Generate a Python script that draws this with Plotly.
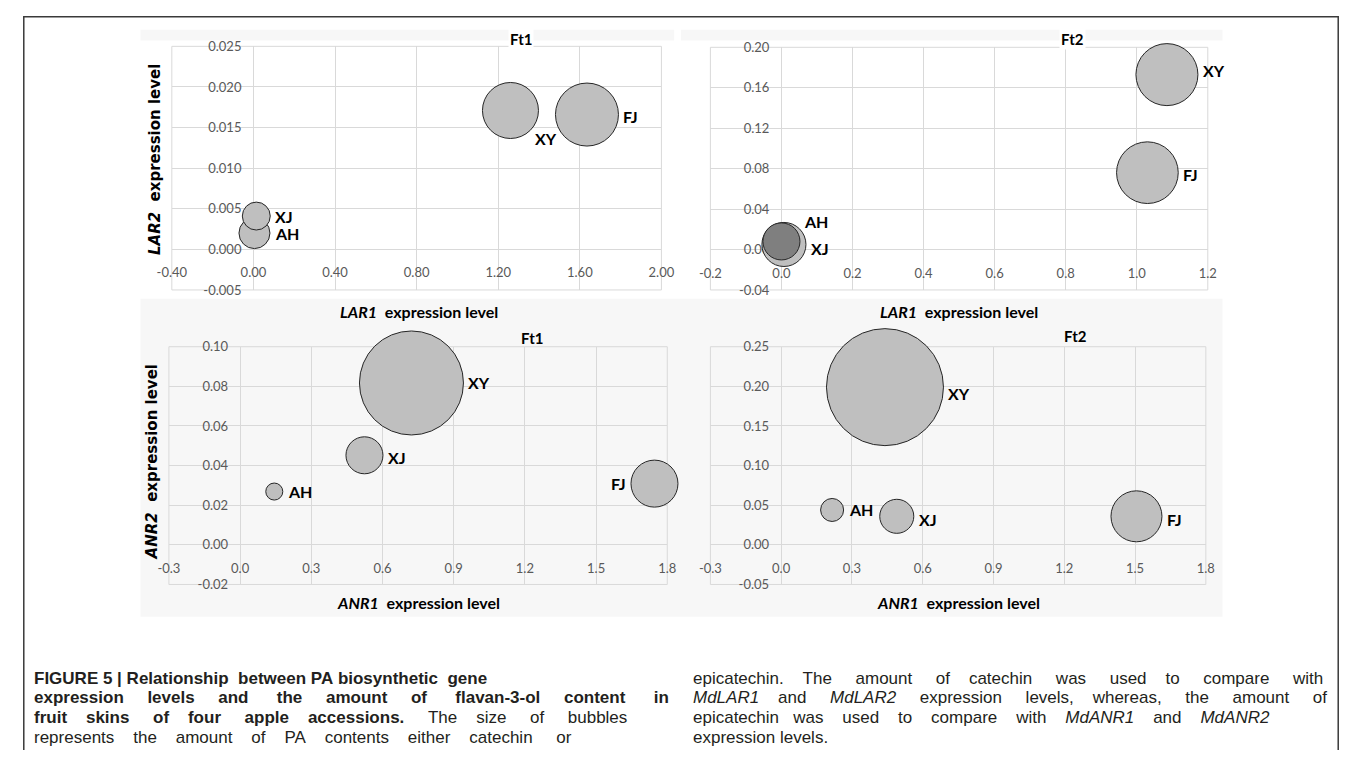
import math
import plotly.graph_objects as go

# page pixel size of the reference, and the browser's default 8px body margin
PAGE_W, PAGE_H = 1360, 758
OX, OY = 8, 8
W, H = PAGE_W - 2 * OX, PAGE_H - 2 * OY

# ---------------- data ----------------
accessions = ["AH", "XJ", "XY", "FJ"]

# Ft1: LAR1 vs LAR2, bubble = catechin
lar1_ft1 = [0.005, 0.014, 1.260, 1.635]
lar2_ft1 = [0.0020, 0.0041, 0.0171, 0.0166]
catechin_ft1 = [9.6, 7.8, 31.4, 39.7]

# Ft2: LAR1 vs LAR2, bubble = catechin
lar1_ft2 = [0.000, 0.007, 1.085, 1.030]
lar2_ft2 = [0.008, 0.005, 0.173, 0.076]
catechin_ft2 = [13.7, 19.4, 38.4, 38.0]

# Ft1: ANR1 vs ANR2, bubble = epicatechin
anr1_ft1 = [0.144, 0.524, 0.722, 1.746]
anr2_ft1 = [0.0269, 0.0452, 0.0817, 0.0309]
epicatechin_ft1 = [2.9, 13.7, 108.2, 22.1]

# Ft2: ANR1 vs ANR2, bubble = epicatechin
anr1_ft2 = [0.216, 0.490, 0.440, 1.506]
anr2_ft2 = [0.044, 0.036, 0.199, 0.036]
epicatechin_ft2 = [5.3, 11.6, 136.9, 26.0]

# tick values
xt_tl = [-0.40, 0.00, 0.40, 0.80, 1.20, 1.60, 2.00]
yt_tl = [-0.005, 0.000, 0.005, 0.010, 0.015, 0.020, 0.025]
xt_tr = [-0.2, 0.0, 0.2, 0.4, 0.6, 0.8, 1.0, 1.2]
yt_tr = [-0.04, 0.00, 0.04, 0.08, 0.12, 0.16, 0.20]
xt_b = [-0.3, 0.0, 0.3, 0.6, 0.9, 1.2, 1.5, 1.8]
yt_bl = [-0.02, 0.00, 0.02, 0.04, 0.06, 0.08, 0.10]
yt_br = [-0.05, 0.00, 0.05, 0.10, 0.15, 0.20, 0.25]

panel_titles = ["Ft1", "Ft2", "Ft1", "Ft2"]

# caption: lines of (text, style) segments; style: "b" bold, "i" italic, "" plain
caption_left = [
    [("FIGURE 5 | Relationship between PA biosynthetic gene", "b")],
    [("expression levels and the amount of flavan-3-ol content in", "b")],
    [("fruit skins of four apple accessions.", "b"), (" The size of bubbles", "")],
    [("represents the amount of PA contents either catechin or", "")],
]
caption_right = [
    [("epicatechin. The amount of catechin was used to compare with", "")],
    [("MdLAR1", "i"), (" and ", ""), ("MdLAR2", "i"),
     (" expression levels, whereas, the amount of", "")],
    [("epicatechin was used to compare with ", ""), ("MdANR1", "i"), (" and ", ""),
     ("MdANR2", "i")],
    [("expression levels.", "")],
]

# ---------------- style / layout ----------------
def px_x(p):
    return (p - OX) / W


def px_y(p):
    return 1 - (p - OY) / H


panels = [
    dict(x=lar1_ft1, y=lar2_ft1, s=catechin_ft1, xt=xt_tl, yt=yt_tl, xf="{:.2f}", yf="{:.3f}",
         box=(160, 660, 39, 288), maxd=63, dark=None,
         lab={"AH": ("r", 0), "XJ": ("r", 0), "XY": ("br", 0), "FJ": ("r", 2)}),
    dict(x=lar1_ft2, y=lar2_ft2, s=catechin_ft2, xt=xt_tr, yt=yt_tr, xf="{:.1f}", yf="{:.2f}",
         box=(710, 1218, 40, 288), maxd=62, dark="AH",
         lab={"AH": ("tr", 0), "XJ": ("r", 4), "XY": ("r", -4), "FJ": ("r", 2)}),
    dict(x=anr1_ft1, y=anr2_ft1, s=epicatechin_ft1, xt=xt_b, yt=yt_bl, xf="{:.1f}", yf="{:.2f}",
         box=(157, 666, 346, 589), maxd=104, dark=None,
         lab={"AH": ("r", 0), "XJ": ("r", 2), "XY": ("r", 0), "FJ": ("l", 0)}),
    dict(x=anr1_ft2, y=anr2_ft2, s=epicatechin_ft2, xt=xt_b, yt=yt_br, xf="{:.1f}", yf="{:.2f}",
         box=(710, 1216, 346, 589), maxd=117, dark=None,
         lab={"AH": ("r", 0), "XJ": ("r", 3), "XY": ("r", 6), "FJ": ("r", 3)}),
]

GRID = "#d9d9d9"
TICKC = "#595959"
LABEL_FONT = dict(family="Lato", size=16, color="#000000")

fig = go.Figure()
layout = dict(
    width=W, height=H, margin=dict(l=0, r=0, t=0, b=0),
    paper_bgcolor="white", plot_bgcolor="white", showlegend=False,
)
shapes = []
annotations = []

# light grey chart-area bands (drawn beneath plot areas)
for (x0, x1, y0, y1) in [(128, 673, 22, 33), (680, 1233, 22, 33), (128, 1233, 297, 622)]:
    shapes.append(dict(type="rect", xref="paper", yref="paper",
                       x0=px_x(x0), x1=px_x(x1), y0=px_y(y1), y1=px_y(y0),
                       fillcolor="#f7f7f7", line=dict(width=0), layer="below"))

for i, p in enumerate(panels):
    n = "" if i == 0 else str(i + 1)
    xa, ya = "xaxis" + n, "yaxis" + n
    xr, yr = "x" + n, "y" + n
    bx0, bx1, by0, by1 = p["box"]
    xd = [px_x(bx0), px_x(bx1)]
    yd = [px_y(by1), px_y(by0)]
    xrng = [p["xt"][0], p["xt"][-1]]
    yrng = [p["yt"][0], p["yt"][-1]]
    # axes cross at zero (Excel style)
    ypos = xd[0] + (0 - xrng[0]) / (xrng[1] - xrng[0]) * (xd[1] - xd[0])
    xpos = yd[0] + (0 - yrng[0]) / (yrng[1] - yrng[0]) * (yd[1] - yd[0])
    common = dict(showgrid=True, gridcolor=GRID, gridwidth=1, zeroline=True,
                  zerolinecolor=GRID, zerolinewidth=1, showline=False, ticks="",
                  tickfont=dict(family="Lato", size=13, color=TICKC),
                  layer="below traces", fixedrange=True)
    layout[xa] = dict(domain=xd, range=xrng, tickvals=p["xt"],
                      ticktext=[p["xf"].format(v) for v in p["xt"]],
                      anchor="free", position=xpos, ticklabelstandoff=14, **common)
    layout[ya] = dict(domain=yd, range=yrng, tickvals=p["yt"],
                      ticktext=[p["yf"].format(v) for v in p["yt"]],
                      anchor="free", position=ypos, ticklabelstandoff=12, **common)

    # plot-area border
    shapes.append(dict(type="rect", xref=xr + " domain", yref=yr + " domain",
                       x0=0, x1=1, y0=0, y1=1, line=dict(color=GRID, width=1),
                       layer="below"))

    smax = max(p["s"])
    sizeref = 2 * smax / p["maxd"] ** 2
    order = sorted(range(len(accessions)), key=lambda k: -p["s"][k])
    colors = ["#7f7f7f" if accessions[k] == p["dark"] else "#bfbfbf" for k in order]
    fig.add_trace(go.Scatter(
        x=[p["x"][k] for k in order], y=[p["y"][k] for k in order],
        mode="markers", xaxis=xr, yaxis=yr, cliponaxis=False, hoverinfo="skip",
        marker=dict(size=[p["s"][k] for k in order], sizemode="area", sizeref=sizeref,
                    color=colors, opacity=1, line=dict(color="#262626", width=1)),
    ))

    for k, name in enumerate(accessions):
        r = p["maxd"] / 2 * math.sqrt(p["s"][k] / smax)
        pos, dy = p["lab"][name]
        if pos == "r":
            xs, ys, xanc = r + 3, -dy, "left"
        elif pos == "l":
            xs, ys, xanc = -r - 3, -dy, "right"
        elif pos == "br":
            xs, ys, xanc = 0.82 * r, -r - dy, "left"
        else:  # "tr"
            xs, ys, xanc = 1.1 * r, 1.1 * r - dy, "left"
        annotations.append(dict(x=p["x"][k], y=p["y"][k], xref=xr, yref=yr,
                                text="<b>%s</b>" % name,
                                showarrow=False, xanchor=xanc, yanchor="middle",
                                xshift=xs, yshift=ys, font=LABEL_FONT))

    # panel title
    tx = [517, 1080, 528, 1083][i]
    ty = [31, 31, 337, 335][i]
    annotations.append(dict(x=px_x(tx), y=px_y(ty), xref="paper", yref="paper",
                            text="<b>%s</b>" % panel_titles[i], showarrow=False,
                            xanchor="center", yanchor="middle",
                            bgcolor="white" if i < 2 else None, borderpad=1,
                            font=dict(family="Lato", size=15, color="#000000")))

# axis titles
xtitle_font = dict(family="Lato", size=16, color="#000000")
for (cx, cy, txt) in [(412, 310, "<b><i>LAR1</i>  expression level</b>"),
                      (964, 310, "<b><i>LAR1</i>  expression level</b>"),
                      (412, 607, "<b><i>ANR1</i>  expression level</b>"),
                      (963, 607, "<b><i>ANR1</i>  expression level</b>")]:
    annotations.append(dict(x=px_x(cx), y=px_y(cy), xref="paper", yref="paper", text=txt,
                            showarrow=False, xanchor="center", yanchor="middle",
                            font=xtitle_font))
for (cx, cy, txt) in [(143, 155, "<b><i>LAR2</i>  expression level</b>"),
                      (140, 464, "<b><i>ANR2</i>  expression level</b>")]:
    annotations.append(dict(x=px_x(cx), y=px_y(cy), xref="paper", yref="paper", text=txt,
                            showarrow=False, xanchor="center", yanchor="middle",
                            textangle=-90,
                            font=dict(family="DejaVu Sans", size=15, color="#000000")))

# ---- caption, word-spaced to the reference line widths (Arial/Helvetica metrics) ----
REG = dict(zip("abcdefghijklmnopqrstuvwxyz",
               [556, 556, 500, 556, 556, 278, 556, 556, 222, 222, 500, 222, 833, 556, 556, 556,
                556, 333, 500, 278, 556, 500, 722, 500, 500, 500]))
REG.update(zip("ABCDEFGHIJKLMNOPQRSTUVWXYZ",
               [667, 667, 722, 722, 667, 611, 778, 722, 278, 500, 667, 556, 833, 722, 778, 667,
                778, 722, 667, 611, 722, 667, 944, 667, 667, 611]))
BOLD = dict(zip("abcdefghijklmnopqrstuvwxyz",
                [556, 611, 556, 611, 556, 333, 611, 611, 278, 278, 556, 278, 889, 611, 611, 611,
                 611, 389, 556, 333, 611, 556, 778, 556, 556, 500]))
BOLD.update(zip("ABCDEFGHIJKLMNOPQRSTUVWXYZ",
                [722, 722, 722, 722, 667, 611, 778, 722, 278, 556, 722, 611, 833, 722, 778, 667,
                 778, 722, 667, 611, 722, 667, 944, 667, 667, 611]))
for d in (REG, BOLD):
    for ch in "0123456789":
        d[ch] = 556
    d.update({" ": 278, ".": 278, ",": 278, "-": 333})
REG["|"] = 260
BOLD["|"] = 280

CAP_SIZE = 17
NBSP = "\u00a0"


def justify(segs, target):
    natural = 0.0
    gaps = 0
    for txt, st in segs:
        tbl = BOLD if st == "b" else REG
        natural += sum(tbl.get(c, 556) for c in txt) / 1000.0 * CAP_SIZE
        gaps += txt.count(" ")
    extra = max(0.0, target - natural)
    sw = 0.278 * CAP_SIZE
    total = int(extra / sw)
    ng = max(gaps, 1)
    out = []
    g = 0
    for txt, st in segs:
        piece = ""
        for c in txt:
            if c == " ":
                # spread the extra spaces evenly over the gaps of the line
                k = (g + 1) * total // ng - g * total // ng
                piece += NBSP * (1 + k)
                g += 1
            else:
                piece += c
        if st == "b":
            piece = "<b>%s</b>" % piece
        elif st == "i":
            piece = "<i>%s</i>" % piece
        out.append(piece)
    return "".join(out)


cap_font = dict(family="Liberation Sans", size=CAP_SIZE, color="#231f20")
left_x, right_x = 17, 690
left_ends = [472, 656, 612, 560]
right_ends = [1322, 1328, 1270, 826]
for j, segs in enumerate(caption_left):
    annotations.append(dict(x=px_x(left_x), y=px_y(685 + 20 * j), xref="paper", yref="paper",
                            text=justify(segs, left_ends[j] - left_x), showarrow=False,
                            xanchor="left", yanchor="middle", font=cap_font))
for j, segs in enumerate(caption_right):
    annotations.append(dict(x=px_x(right_x), y=px_y(685 + 20 * j), xref="paper", yref="paper",
                            text=justify(segs, right_ends[j] - right_x), showarrow=False,
                            xanchor="left", yanchor="middle", font=cap_font))

# outer frame (runs off the bottom of the page)
shapes.append(dict(type="rect", xref="paper", yref="paper", x0=px_x(8.8), x1=px_x(1351.2),
                   y0=px_y(800), y1=px_y(8.8), line=dict(color="#3a3a3a", width=1.5),
                   layer="above"))

layout["shapes"] = shapes
layout["annotations"] = annotations
fig.update_layout(**layout)
fig.write_html("out.html", config={"displayModeBar": False})
